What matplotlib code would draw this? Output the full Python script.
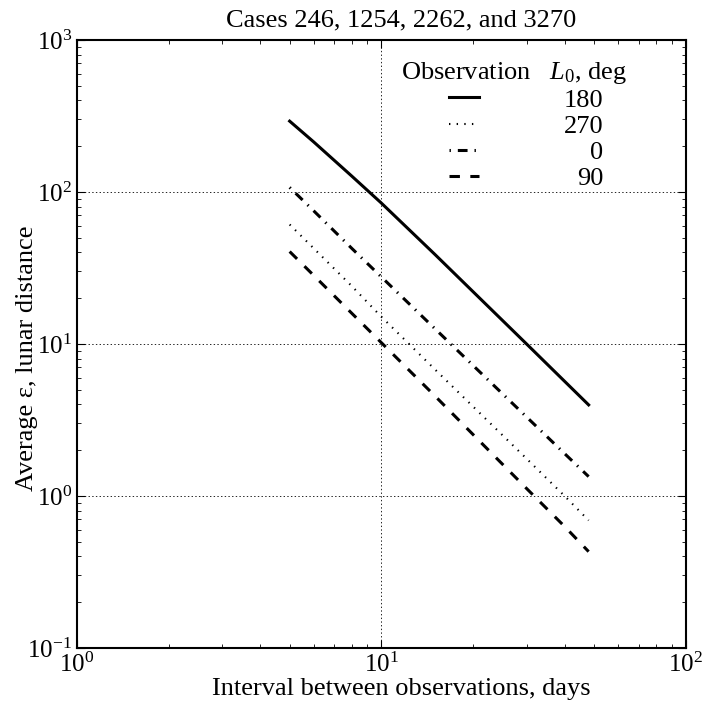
import matplotlib
matplotlib.use("Agg")
import matplotlib.pyplot as plt

plt.rcParams['font.family'] = ['Liberation Serif', 'DejaVu Serif']
plt.rcParams['mathtext.fontset'] = 'custom'
plt.rcParams['mathtext.rm'] = 'Liberation Serif'
plt.rcParams['mathtext.it'] = 'Liberation Serif:italic'
plt.rcParams['mathtext.bf'] = 'Liberation Serif:bold'
plt.rcParams['lines.scale_dashes'] = False

# interval between observations, days
interval = [5, 6, 8, 10, 15, 20, 30, 40, 48]

# average error, lunar distance, for each starting longitude L0
eps_180 = [292, 213, 127, 84.5, 38.8, 22.1, 10.0, 5.68, 3.97]
eps_270 = [61, 42.5, 24.0, 15.1, 6.8, 3.88, 1.76, 1.0, 0.69]
eps_0 = [107, 75, 42.5, 27.6, 12.6, 7.23, 3.31, 1.90, 1.34]
eps_90 = [40.5, 28.2, 15.9, 10.2, 4.55, 2.54, 1.12, 0.63, 0.43]

labels = ['180', '270', '0', '90']

fig = plt.figure(figsize=(7.12, 7.12), dpi=100)
ax = fig.add_axes([0.108, 0.090, 0.855, 0.854])

ax.plot(interval, eps_180, color='k', lw=2.2, ls='-', label=labels[0])
ax.plot(interval, eps_270, color='k', lw=1.5, ls=(0, (1, 4.5)), label=labels[1])
ax.plot(interval, eps_0, color='k', lw=2.2, ls=(12, (7, 5, 1, 5)), label=labels[2])
ax.plot(interval, eps_90, color='k', lw=2.2, ls=(0, (7.5, 7.5)), label=labels[3])

ax.set_xscale('log')
ax.set_yscale('log')
ax.set_xlim(1, 100)
ax.set_ylim(0.1, 1000)

ax.grid(True, which='major', color='k', ls=':', lw=0.6)
ax.tick_params(which='both', direction='in', top=True, right=True, labelsize=18)
ax.tick_params(which='major', length=5.5)
ax.tick_params(which='minor', length=3)
for s in ax.spines.values():
    s.set_linewidth(1.5)

ax.set_xlabel('Interval between observations, days', fontsize=19)
ax.xaxis.set_label_coords(0.533, -0.049)
ax.set_ylabel('Average ε, lunar distance', fontsize=19)
ax.yaxis.set_label_coords(-0.064, 0.477)
ax.set_title('Cases 246, 1254, 2262, and 3270', fontsize=19, x=0.532, pad=9.4)

leg = ax.legend(title='Observation   $L_0$, deg', loc='upper right',
                bbox_to_anchor=(0.941, 0.985), borderaxespad=0,
                frameon=False, fontsize=19, title_fontsize=19,
                handlelength=1.15, handletextpad=3.2, labelspacing=0.1)

# right-align the legend labels, nudge the title left
fig.canvas.draw()
texts = leg.get_texts()
widths = [t.get_window_extent().width for t in texts]
wmax = max(widths)
for t, w in zip(texts, widths):
    t.set_position((wmax - w, 0))
leg.get_title().set_position((-12, 0))

fig.savefig('out.png', dpi=100)
